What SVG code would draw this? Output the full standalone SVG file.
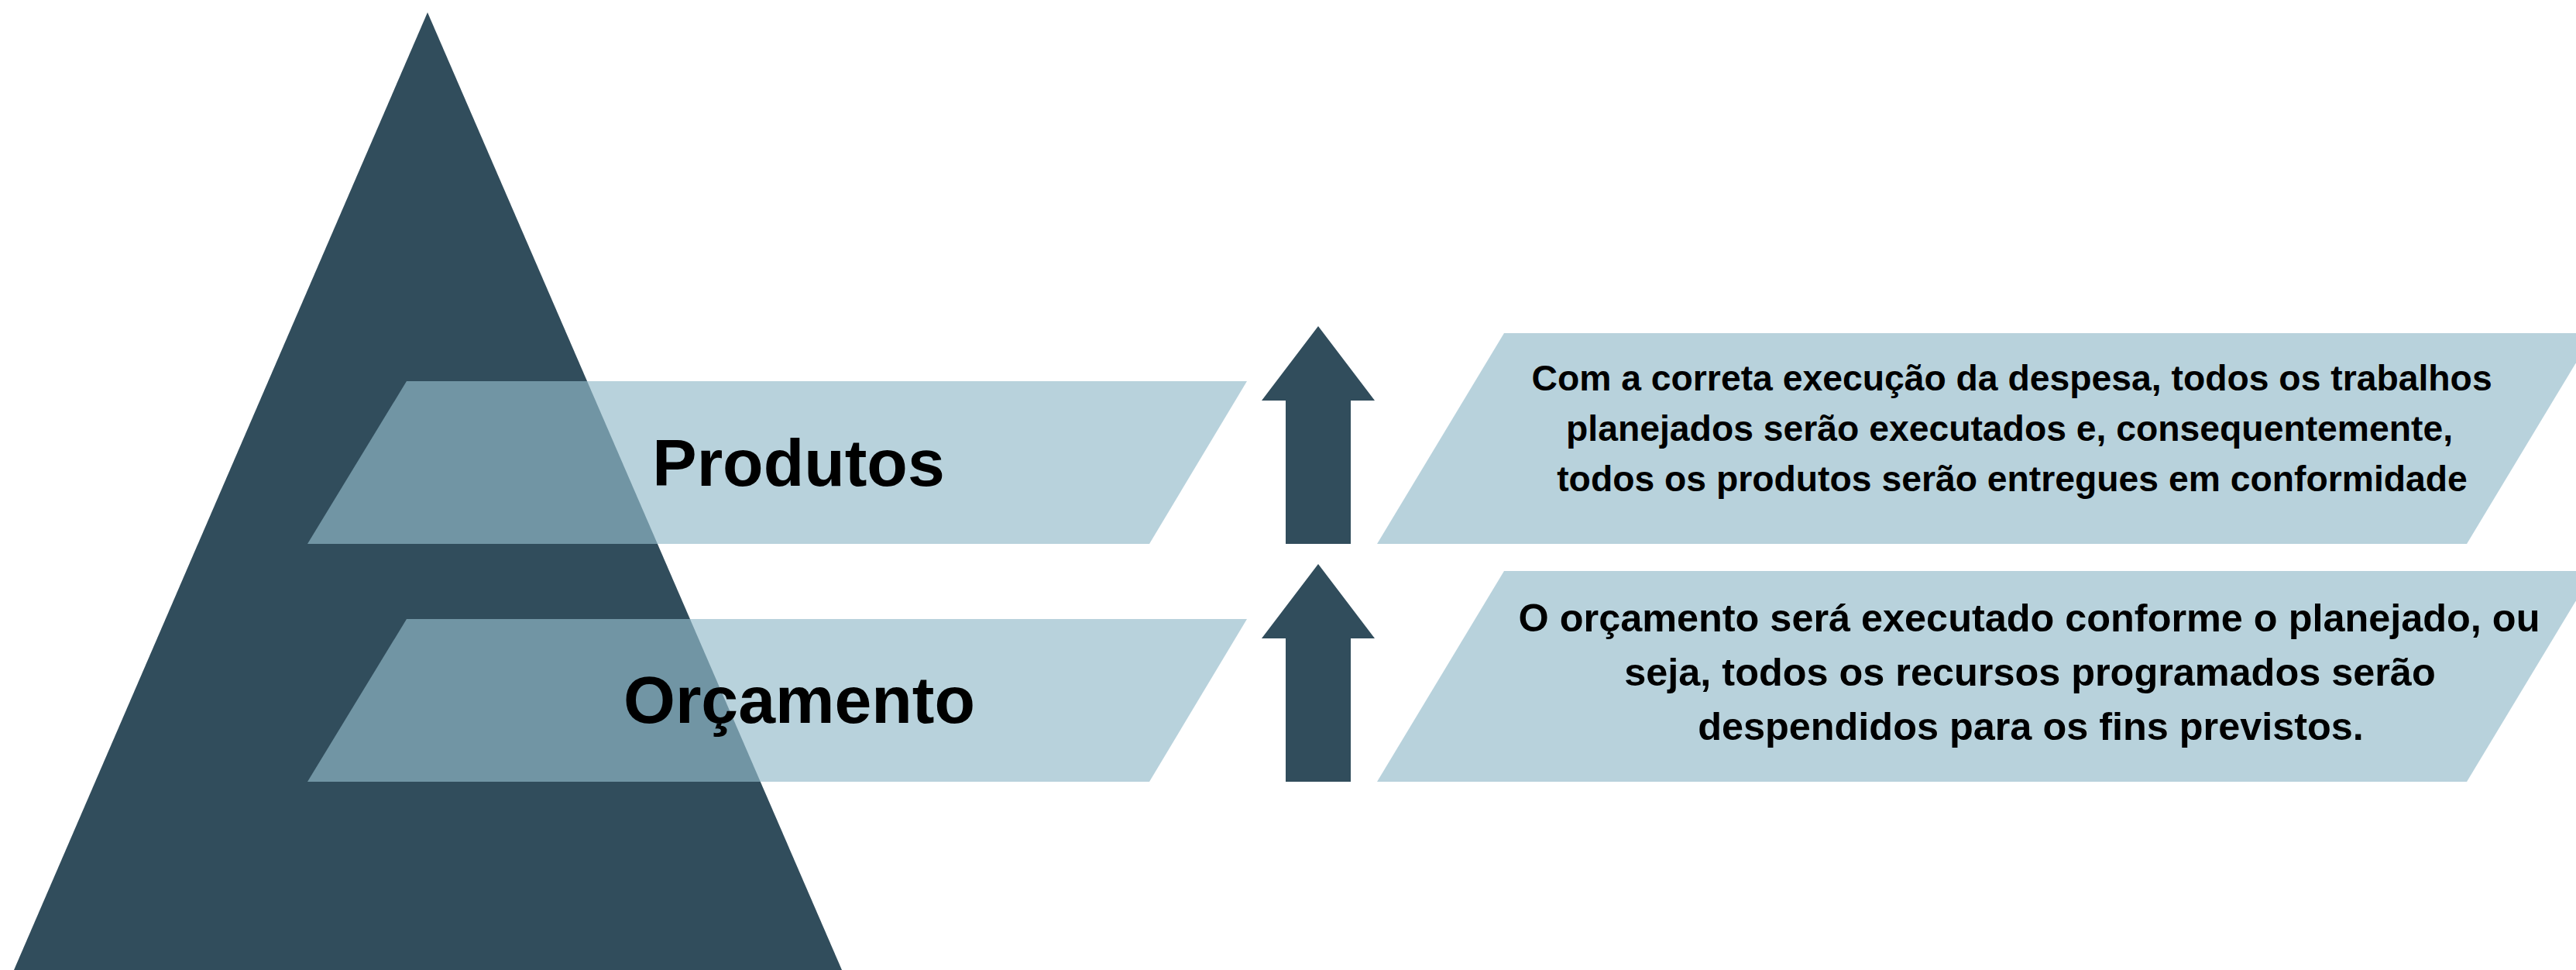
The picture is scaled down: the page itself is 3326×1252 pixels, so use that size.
<svg xmlns="http://www.w3.org/2000/svg" width="3326" height="1252" viewBox="0 0 3326 1252">
  <style>
    .dark { fill: #314d5c; }
    .band { fill: #93bbca; fill-opacity: 0.66; }
    .label { font-family: "Liberation Sans", Arial, sans-serif; font-weight: bold; fill: #000000; text-anchor: middle; }
  </style>
  <rect x="0" y="0" width="3326" height="1252" fill="#ffffff"/>
  <g id="pyramid">
    <polygon class="dark" points="552,16 1087,1252 18,1252"/>
  </g>
  <g id="node-produtos">
    <polygon class="band" points="525,492 1610,492 1484,702 397,702"/>
    <text class="label" x="1031" y="627" font-size="86">Produtos</text>
  </g>
  <g id="node-orcamento">
    <polygon class="band" points="525,799 1610,799 1484,1009 397,1009"/>
    <text class="label" x="1032" y="933" font-size="86">Orçamento</text>
  </g>
  <g id="connectors">
    <polygon class="dark" points="1702,421 1775,517 1744,517 1744,702 1660,702 1660,517 1629,517"/>
    <polygon class="dark" points="1702,728 1775,824 1744,824 1744,1009 1660,1009 1660,824 1629,824"/>
  </g>
  <g id="node-desc-produtos">
    <polygon class="band" points="1942,430 3349,430 3185,702 1778,702"/>
    <text class="label" font-size="46.3">
      <tspan x="2604" y="504">Com a correta execução da despesa, todos os trabalhos</tspan>
      <tspan x="2601" y="569">planejados serão executados e, consequentemente,</tspan>
      <tspan x="2598" y="634">todos os produtos serão entregues em conformidade</tspan>
    </text>
  </g>
  <g id="node-desc-orcamento">
    <polygon class="band" points="1942,737 3349,737 3185,1009 1778,1009"/>
    <text class="label" font-size="50.4">
      <tspan x="2627" y="815">O orçamento será executado conforme o planejado, ou</tspan>
      <tspan x="2628" y="885">seja, todos os recursos programados serão</tspan>
      <tspan x="2622" y="955">despendidos para os fins previstos.</tspan>
    </text>
  </g>
</svg>
